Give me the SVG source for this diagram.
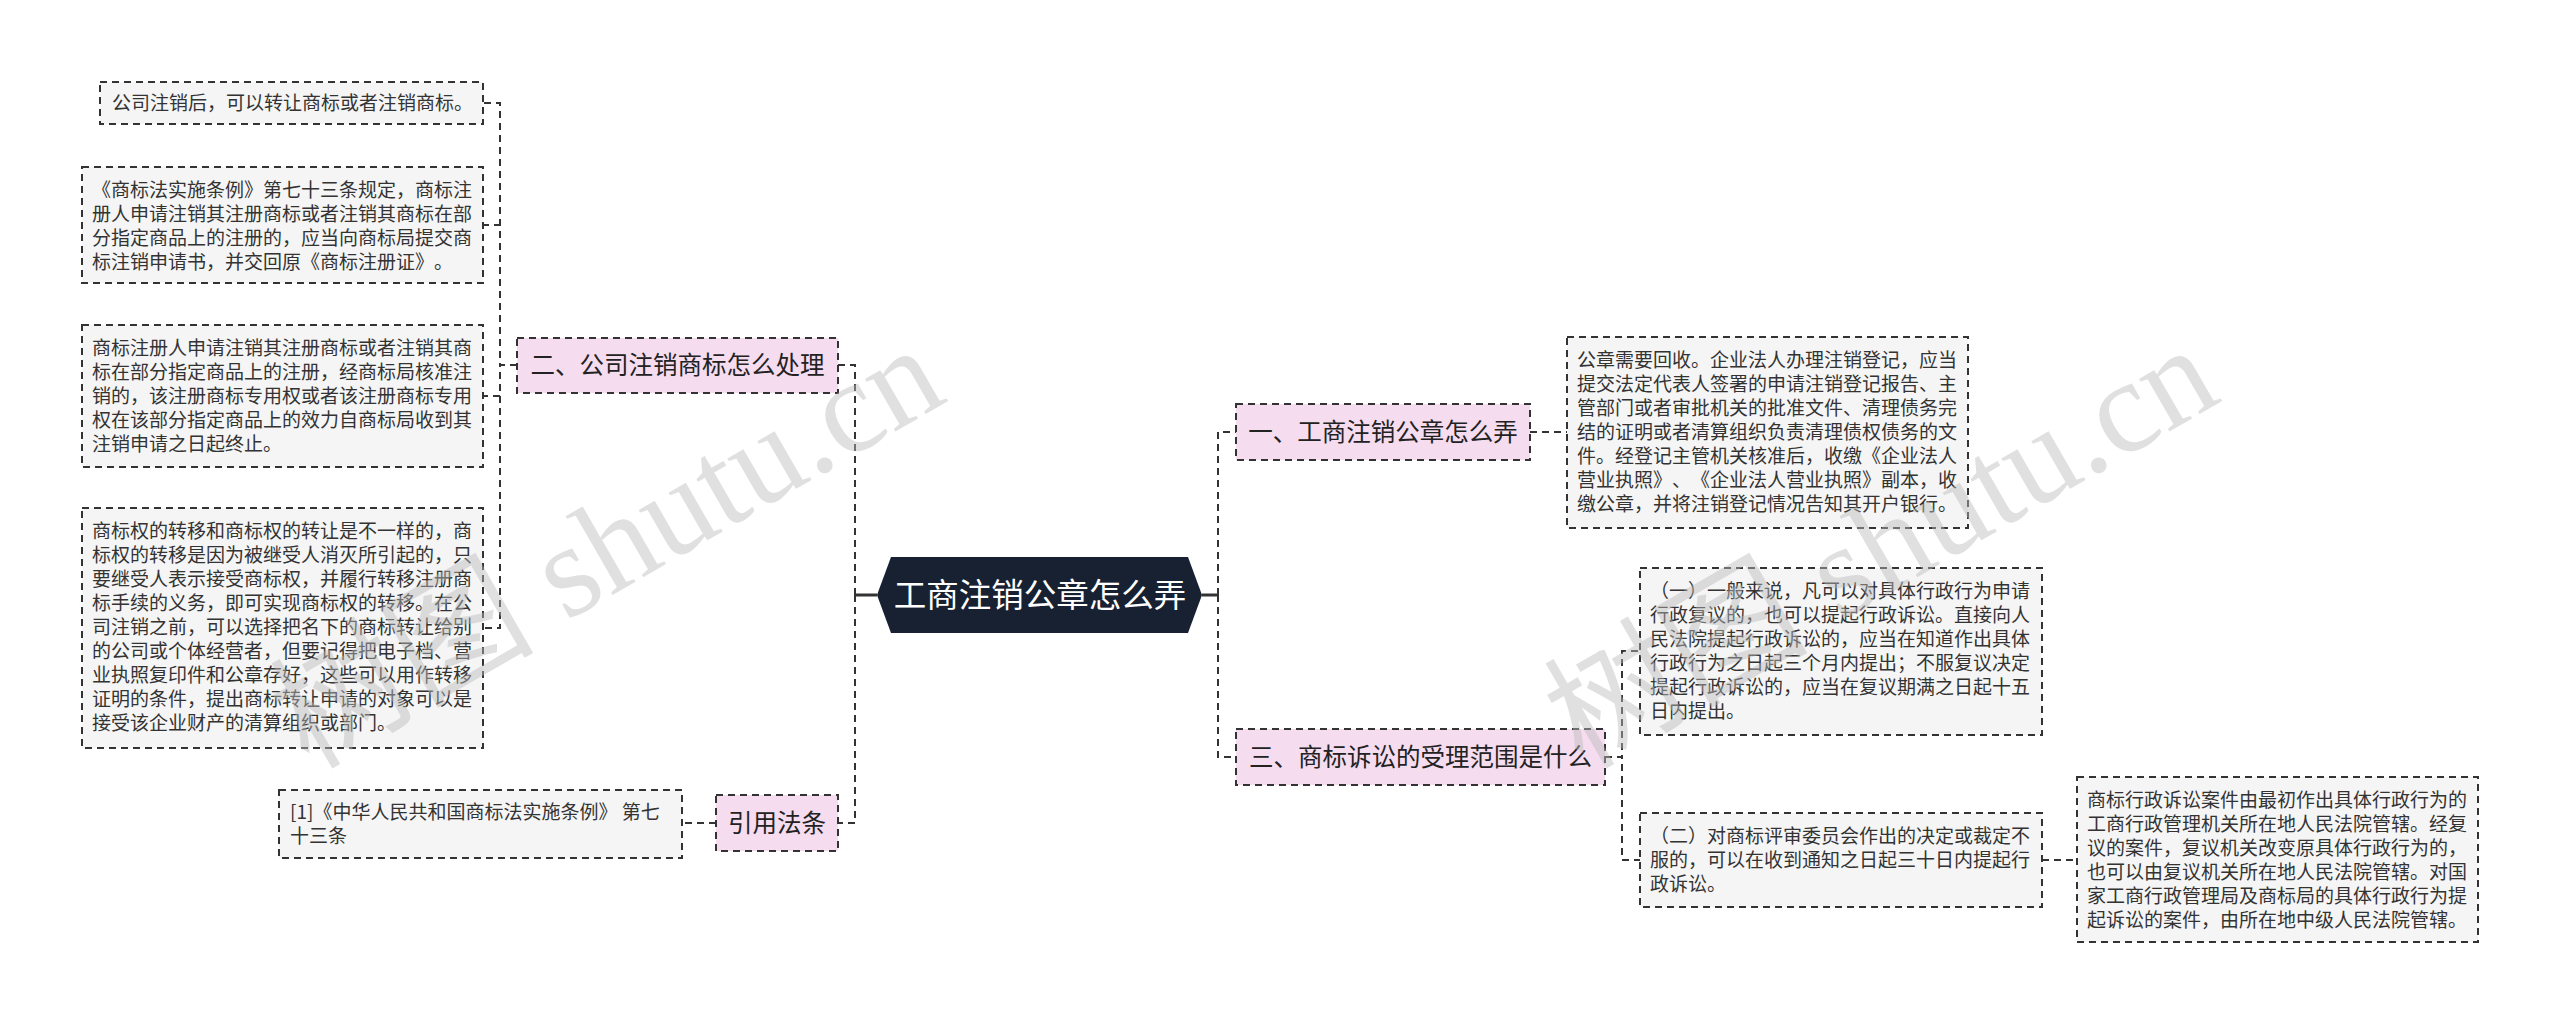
<svg xmlns="http://www.w3.org/2000/svg" width="2560" height="1025" viewBox="0 0 2560 1025">
<style>
  text { text-spacing-trim: space-all; }
  .leaf rect { fill: #f5f5f5; stroke: #333; stroke-width: 2; stroke-dasharray: 7 5; }
  .leaf text { font-family: "Noto Sans CJK SC", "Liberation Sans", sans-serif; font-size: 19px; fill: #333; }
  .branch rect { fill: #f5dcef; stroke: #333; stroke-width: 2; stroke-dasharray: 7 5; }
  .branch text { font-family: "Noto Sans CJK SC", "Liberation Sans", sans-serif; font-size: 24.5px; fill: #222; text-anchor: middle; }
  .root text { font-family: "Noto Sans CJK SC", "Liberation Sans", sans-serif; font-size: 32.5px; fill: #fff; text-anchor: middle; }
  .edge { fill: none; stroke: #333; stroke-width: 2; stroke-dasharray: 7 5; }
  .solid { fill: none; stroke: #333; stroke-width: 3; }
  .wm { font-family: "Liberation Serif", "Noto Sans CJK SC", serif; font-size: 132px; fill: #bbb; opacity: 0.45; }
</style>
<rect width="2560" height="1025" fill="#fff"/>

<g id="connectors">
  <path class="solid" d="M877,595 H855"/>
  <path class="edge" d="M855,595 V365 H838"/>
  <path class="edge" d="M855,595 V823 H838"/>
  <path class="edge" d="M517,365 H500 V103 H483"/>
  <path class="edge" d="M517,365 H500 V225 H483"/>
  <path class="edge" d="M517,365 H500 V396 H483"/>
  <path class="edge" d="M517,365 H500 V628 H483"/>
  <path class="edge" d="M716,823 H683"/>
  <path class="solid" d="M1202,595 H1218"/>
  <path class="edge" d="M1218,595 V432 H1236"/>
  <path class="edge" d="M1218,595 V757 H1236"/>
  <path class="edge" d="M1530,432 H1567"/>
  <path class="edge" d="M1605,757 H1622 V651 H1640"/>
  <path class="edge" d="M1605,757 H1622 V860 H1640"/>
  <path class="edge" d="M2042,860 H2077"/>
</g>

<g id="root" class="root">
  <polygon points="877,595 891,557 1188,557 1202,595 1188,633 891,633" fill="#172132"/>
  <text x="1040" y="607">工商注销公章怎么弄</text>
</g>

<g id="b2" class="branch">
  <rect x="517" y="338" width="321" height="55"/>
  <text x="677.5" y="374">二、公司注销商标怎么处理</text>
</g>
<g id="bref" class="branch">
  <rect x="716" y="795" width="122" height="56"/>
  <text x="777" y="832">引用法条</text>
</g>
<g id="b1" class="branch">
  <rect x="1236" y="404" width="294" height="56"/>
  <text x="1383" y="441">一、工商注销公章怎么弄</text>
</g>
<g id="b3" class="branch">
  <rect x="1236" y="729" width="369" height="56"/>
  <text x="1420.5" y="766">三、商标诉讼的受理范围是什么</text>
</g>

<g id="l1" class="leaf">
  <rect x="100" y="82" width="383" height="42"/>
  <text x="112" y="110">公司注销后，可以转让商标或者注销商标。</text>
</g>
<g id="l2" class="leaf">
  <rect x="82" y="167" width="401" height="116"/>
  <text x="92" y="197">
    <tspan x="92">《商标法实施条例》第七十三条规定，商标注</tspan>
    <tspan x="92" dy="24">册人申请注销其注册商标或者注销其商标在部</tspan>
    <tspan x="92" dy="24">分指定商品上的注册的，应当向商标局提交商</tspan>
    <tspan x="92" dy="24">标注销申请书，并交回原《商标注册证》。</tspan>
  </text>
</g>
<g id="l3" class="leaf">
  <rect x="82" y="325" width="401" height="142"/>
  <text x="92" y="355">
    <tspan x="92">商标注册人申请注销其注册商标或者注销其商</tspan>
    <tspan x="92" dy="24">标在部分指定商品上的注册，经商标局核准注</tspan>
    <tspan x="92" dy="24">销的，该注册商标专用权或者该注册商标专用</tspan>
    <tspan x="92" dy="24">权在该部分指定商品上的效力自商标局收到其</tspan>
    <tspan x="92" dy="24">注销申请之日起终止。</tspan>
  </text>
</g>
<g id="l4" class="leaf">
  <rect x="82" y="508" width="401" height="240"/>
  <text x="92" y="538">
    <tspan x="92">商标权的转移和商标权的转让是不一样的，商</tspan>
    <tspan x="92" dy="24">标权的转移是因为被继受人消灭所引起的，只</tspan>
    <tspan x="92" dy="24">要继受人表示接受商标权，并履行转移注册商</tspan>
    <tspan x="92" dy="24">标手续的义务，即可实现商标权的转移。在公</tspan>
    <tspan x="92" dy="24">司注销之前，可以选择把名下的商标转让给别</tspan>
    <tspan x="92" dy="24">的公司或个体经营者，但要记得把电子档、营</tspan>
    <tspan x="92" dy="24">业执照复印件和公章存好，这些可以用作转移</tspan>
    <tspan x="92" dy="24">证明的条件，提出商标转让申请的对象可以是</tspan>
    <tspan x="92" dy="24">接受该企业财产的清算组织或部门。</tspan>
  </text>
</g>
<g id="l5" class="leaf">
  <rect x="279" y="790" width="403" height="68"/>
  <text x="290" y="819">
    <tspan x="290">[1]《中华人民共和国商标法实施条例》 第七</tspan>
    <tspan x="290" dy="24">十三条</tspan>
  </text>
</g>
<g id="r1" class="leaf">
  <rect x="1567" y="337" width="401" height="191"/>
  <text x="1577" y="367">
    <tspan x="1577">公章需要回收。企业法人办理注销登记，应当</tspan>
    <tspan x="1577" dy="24">提交法定代表人签署的申请注销登记报告、主</tspan>
    <tspan x="1577" dy="24">管部门或者审批机关的批准文件、清理债务完</tspan>
    <tspan x="1577" dy="24">结的证明或者清算组织负责清理债权债务的文</tspan>
    <tspan x="1577" dy="24">件。经登记主管机关核准后，收缴《企业法人</tspan>
    <tspan x="1577" dy="24">营业执照》、《企业法人营业执照》副本，收</tspan>
    <tspan x="1577" dy="24">缴公章，并将注销登记情况告知其开户银行。</tspan>
  </text>
</g>
<g id="r2" class="leaf">
  <rect x="1640" y="568" width="402" height="167"/>
  <text x="1650" y="598">
    <tspan x="1650">（一）一般来说，凡可以对具体行政行为申请</tspan>
    <tspan x="1650" dy="24">行政复议的，也可以提起行政诉讼。直接向人</tspan>
    <tspan x="1650" dy="24">民法院提起行政诉讼的，应当在知道作出具体</tspan>
    <tspan x="1650" dy="24">行政行为之日起三个月内提出；不服复议决定</tspan>
    <tspan x="1650" dy="24">提起行政诉讼的，应当在复议期满之日起十五</tspan>
    <tspan x="1650" dy="24">日内提出。</tspan>
  </text>
</g>
<g id="r3" class="leaf">
  <rect x="1640" y="813" width="402" height="94"/>
  <text x="1650" y="843">
    <tspan x="1650">（二）对商标评审委员会作出的决定或裁定不</tspan>
    <tspan x="1650" dy="24">服的，可以在收到通知之日起三十日内提起行</tspan>
    <tspan x="1650" dy="24">政诉讼。</tspan>
  </text>
</g>
<g id="r4" class="leaf">
  <rect x="2077" y="777" width="401" height="165"/>
  <text x="2087" y="807">
    <tspan x="2087">商标行政诉讼案件由最初作出具体行政行为的</tspan>
    <tspan x="2087" dy="24">工商行政管理机关所在地人民法院管辖。经复</tspan>
    <tspan x="2087" dy="24">议的案件，复议机关改变原具体行政行为的，</tspan>
    <tspan x="2087" dy="24">也可以由复议机关所在地人民法院管辖。对国</tspan>
    <tspan x="2087" dy="24">家工商行政管理局及商标局的具体行政行为提</tspan>
    <tspan x="2087" dy="24">起诉讼的案件，由所在地中级人民法院管辖。</tspan>
  </text>
</g>

<g id="watermark">
  <text class="wm" text-anchor="end" transform="translate(950,400) rotate(-30)">树图 shutu.cn</text>
  <text class="wm" text-anchor="end" transform="translate(2224,400) rotate(-30)">树图 shutu.cn</text>
</g>
</svg>
